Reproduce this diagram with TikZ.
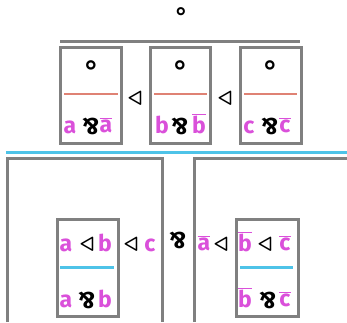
\documentclass[tikz,border=0pt]{standalone}
\usepackage{fontspec}
\setmainfont{Fira Sans}
\newfontfamily\symfont{DejaVu Sans}
\usepackage{graphicx}
\definecolor{boxgray}{HTML}{808080}
\definecolor{mag}{HTML}{DA50DA}
\definecolor{salmon}{HTML}{DF8274}
\definecolor{skyblue}{HTML}{4EC3E8}
\newcommand{\parrsym}{\rotatebox[origin=c]{180}{\&}}
\newcommand{\ovl}[1]{\ensuremath{\overline{\mbox{#1}}}}
\begin{document}
\begin{tikzpicture}[x=1pt,y=-1pt,
  frame/.style={draw=boxgray, line width=3pt},
  fbox/.style={frame, inner sep=0, minimum width=61pt, minimum height=96pt},
  lbl/.style={inner sep=0, font=\fontsize{23}{23}\selectfont\bfseries, text=mag},
  op/.style={inner sep=0, font=\fontsize{23}{23}\selectfont\bfseries\boldmath, text=black},
  unitop/.style={inner sep=0, font=\fontsize{29}{29}\selectfont\symfont\bfseries, text=black},
  redrule/.style={draw=salmon, line width=2.5pt},
  bluerule/.style={draw=skyblue, line width=3pt}]
\useasboundingbox (0,0) rectangle (347,322);
% top unit
\node[unitop, font=\fontsize{25}{25}\selectfont\symfont\bfseries] (unit) at (181,14) {∘};
\coordinate (tl) at (60,41); \coordinate (tr) at (300,41);
\draw[frame] (tl) -- (tr);
% top boxes
\node[fbox] (b1) at (90.5,95) {};
\node[fbox, minimum width=60pt] (b2) at (180,95) {};
\node[fbox] (b3) at (270.5,95) {};
\foreach \i/\x in {1/91,2/180,3/270}{
  \node[unitop] (u\i) at (\x,68) {∘};
}
\coordinate (r1a) at (64,94); \coordinate (r1b) at (118,94);
\coordinate (r2a) at (154,94); \coordinate (r2b) at (207,94);
\coordinate (r3a) at (244,94); \coordinate (r3b) at (297,94);
\draw[redrule] (r1a) -- (r1b);
\draw[redrule] (r2a) -- (r2b);
\draw[redrule] (r3a) -- (r3b);
\node[lbl] (a1) at (70,127) {a};
\node[op] (p1) at (91,126) {\parrsym};
\node[lbl] (na1) at (106,125) {\ovl{a}};
\node[lbl] (b1l) at (162,125) {b};
\node[op] (p2) at (180,126) {\parrsym};
\node[lbl] (nb1) at (199,124) {\ovl{b}};
\node[lbl] (c1) at (249,127) {c};
\node[op] (p3) at (270,126) {\parrsym};
\node[lbl] (nc1) at (285,125) {\ovl{c}};
\node[op] (s1) at (135,99) {$\triangleleft$};
\node[op] (s2) at (225,99) {$\triangleleft$};
% rule
\coordinate (bl) at (6,152); \coordinate (br) at (347,152);
\draw[bluerule] (bl) -- (br);
% bottom big boxes
\coordinate (L1) at (7,322); \coordinate (L2) at (7,158);
\coordinate (L3) at (162,158); \coordinate (L4) at (162,322);
\draw[frame] (L1) -- (L2) -- (L3) -- (L4);
\coordinate (R1) at (194,322); \coordinate (R2) at (194,158);
\coordinate (R3) at (347,158);
\draw[frame] (R1) -- (R2) -- (R3);
% inner boxes
\node[fbox, minimum height=97pt] (ib1) at (87.5,267.5) {};
\node[fbox, minimum width=62pt, minimum height=97pt] (ib2) at (267,267.5) {};
\coordinate (bl1a) at (60,267); \coordinate (bl1b) at (114,267);
\coordinate (bl2a) at (240,267); \coordinate (bl2b) at (293,267);
\draw[bluerule] (bl1a) -- (bl1b);
\draw[bluerule] (bl2a) -- (bl2b);
% left inner content
\node[lbl] (a2) at (66,245) {a};
\node[op] (s3) at (87,245) {$\triangleleft$};
\node[lbl] (b2l) at (105,243) {b};
\node[lbl] (a3) at (66,301) {a};
\node[op] (p4) at (87,300) {\parrsym};
\node[lbl] (b3l) at (105,299) {b};
\node[op] (s4) at (131,245) {$\triangleleft$};
\node[lbl] (c2) at (150,245) {c};
\node[op] (p5) at (178,240) {\parrsym};
\node[lbl] (na2) at (204,243) {\ovl{a}};
\node[op] (s5) at (221,245) {$\triangleleft$};
% right inner content
\node[lbl] (nb2) at (245,242) {\ovl{b}};
\node[op] (s6) at (265,245) {$\triangleleft$};
\node[lbl] (nc2) at (285,243) {\ovl{c}};
\node[lbl] (nb3) at (245,298) {\ovl{b}};
\node[op] (p6) at (268,300) {\parrsym};
\node[lbl] (nc3) at (285,299) {\ovl{c}};
\end{tikzpicture}
\end{document}
